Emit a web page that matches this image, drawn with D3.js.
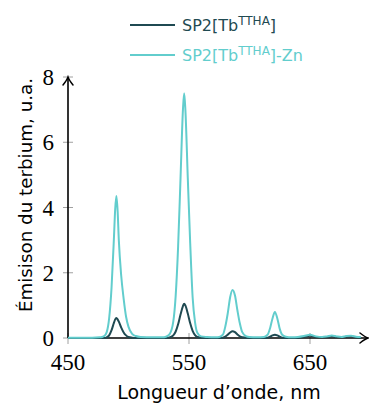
<!DOCTYPE html>
<html>
<head>
<meta charset="utf-8">
<script src="https://cdn.jsdelivr.net/npm/d3@7"></script>
<style>
html,body{margin:0;padding:0;background:#fff;}
svg{display:block;}
</style>
</head>
<body>
<svg id="chart" width="369" height="403"></svg>
<script>
// ---- data ----
const wavelength = [450,460,470,476,478,480,482,484,486,488,489,490,491,492,494,496,498,500,503,506,510,520,528,531,534,537,539,541,543,545,546,547,549,551,553,555,557,560,565,572,575,578,580,582,584,586,588,590,592,594,597,600,606,612,615,617,619,621,623,625,627,630,635,640,645,650,655,660,664,668,672,676,680,684,688,692];
const tbTTHA = [0,0,0,0,0,0,0.02,0.08,0.24,0.47,0.57,0.61,0.57,0.5,0.32,0.17,0.08,0.03,0.01,0,0,0,0,0,0.02,0.08,0.2,0.42,0.72,0.98,1.05,1.0,0.75,0.45,0.22,0.09,0.03,0.01,0,0,0,0.01,0.04,0.1,0.17,0.21,0.18,0.11,0.05,0.02,0.01,0,0,0,0.01,0.04,0.08,0.1,0.08,0.04,0.01,0,0,0,0.03,0.07,0.03,0.02,0.03,0.05,0.03,0.02,0.04,0.05,0.02,0.01];
const tbTTHAZn = [0.01,0.01,0.01,0.02,0.03,0.06,0.18,0.6,1.55,3.1,3.95,4.35,3.9,3.0,1.9,1.2,0.65,0.34,0.13,0.06,0.03,0.02,0.02,0.04,0.12,0.5,1.3,2.8,4.9,7.0,7.5,7.0,4.9,2.9,1.25,0.48,0.15,0.05,0.03,0.02,0.03,0.1,0.35,0.75,1.25,1.47,1.3,0.85,0.45,0.18,0.06,0.03,0.02,0.03,0.1,0.3,0.6,0.8,0.6,0.28,0.1,0.04,0.02,0.03,0.06,0.1,0.05,0.03,0.05,0.08,0.05,0.03,0.06,0.07,0.04,0.03];
const xTicks = [450,550,650];
const yTicks = [0,2,4,6,8];
const seriesNames = ["SP2[Tb", "SP2[Tb"];
const seriesSup = ["TTHA","TTHA"];
const seriesSuffix = ["]","]-Zn"];
const colors = ["#1f4a52","#62cdcd"];
const xTitle = "Longueur d\u2019onde, nm";
const yTitle = "\u00C9misison du terbium, u.a.";

// ---- layout ----
const svg = d3.select("#chart");
const x = d3.scaleLinear().domain([450,650]).range([68,310]);
const y = d3.scaleLinear().domain([0,8]).range([338,77]);
const xEnd = 368;

// ticks (gray, crossing the axes)
svg.append("g").selectAll("line").data(yTicks).join("line")
  .attr("x1",x(450)-5).attr("x2",x(450)+5)
  .attr("y1",d=>y(d)).attr("y2",d=>y(d))
  .attr("stroke","#a0a0a0").attr("stroke-width",1);
svg.append("g").selectAll("line").data(xTicks).join("line")
  .attr("x1",d=>x(d)).attr("x2",d=>x(d))
  .attr("y1",y(0)-5).attr("y2",y(0)+6)
  .attr("stroke","#a0a0a0").attr("stroke-width",1);

// tick labels
const serif = "'Liberation Serif','DejaVu Serif',serif";
svg.append("g").selectAll("text").data(yTicks).join("text")
  .attr("x",54).attr("y",d=>y(d)+8)
  .attr("text-anchor","end")
  .attr("font-family",serif).attr("font-size",23)
  .text(d=>d);
svg.append("g").selectAll("text").data(xTicks).join("text")
  .attr("x",d=>x(d)).attr("y",370)
  .attr("text-anchor","middle")
  .attr("font-family",serif).attr("font-size",23)
  .text(d=>d);

// axes lines
svg.append("line").attr("x1",x(450)).attr("x2",xEnd-1).attr("y1",y(0)).attr("y2",y(0))
  .attr("stroke","#000").attr("stroke-width",1.6);
svg.append("line").attr("x1",x(450)).attr("x2",x(450)).attr("y1",y(0)).attr("y2",y(8)+1)
  .attr("stroke","#000").attr("stroke-width",1.6);
// arrow heads
const ax = xEnd, ay = y(0);
svg.append("path")
  .attr("d",`M${ax-8},${ay-5} Q${ax-3},${ay-1} ${ax},${ay} Q${ax-3},${ay+1} ${ax-8},${ay+5}`)
  .attr("fill","none").attr("stroke","#000").attr("stroke-width",1.5).attr("stroke-linecap","round");
const bx = x(450), by = y(8);
svg.append("path")
  .attr("d",`M${bx-5},${by+8} Q${bx-1},${by+3} ${bx},${by} Q${bx+1},${by+3} ${bx+5},${by+8}`)
  .attr("fill","none").attr("stroke","#000").attr("stroke-width",1.5).attr("stroke-linecap","round");

// lines
const line = vals => d3.line()
  .x((d,i)=>x(wavelength[i]))
  .y(d=>y(d))
  .curve(d3.curveMonotoneX)(vals);
[tbTTHA, tbTTHAZn].forEach((vals,k)=>{
  svg.append("path").attr("d",line(vals))
    .attr("fill","none").attr("stroke",colors[k]).attr("stroke-width",2)
    .attr("stroke-linejoin","round");
});

// axis titles
const sans = "'DejaVu Sans','Noto Sans',sans-serif";
svg.append("text").attr("x",219).attr("y",399)
  .attr("text-anchor","middle").attr("font-family",sans).attr("font-size",19)
  .text(xTitle);
svg.append("text").attr("transform","translate(32,195) rotate(-90)")
  .attr("text-anchor","middle").attr("font-family",sans).attr("font-size",18.3)
  .text(yTitle);

// legend
const legY = [25,55];
colors.forEach((c,k)=>{
  svg.append("line").attr("x1",130).attr("x2",175).attr("y1",legY[k]).attr("y2",legY[k])
    .attr("stroke",c).attr("stroke-width",2);
  const t = svg.append("text").attr("x",182).attr("y",legY[k]+6)
    .attr("font-family",sans).attr("font-size",16).attr("fill",c);
  t.append("tspan").text(seriesNames[k]);
  t.append("tspan").attr("dy",-6).attr("font-size",12).text(seriesSup[k]);
  t.append("tspan").attr("dy",6).text(seriesSuffix[k]);
});
</script>
</body>
</html>
